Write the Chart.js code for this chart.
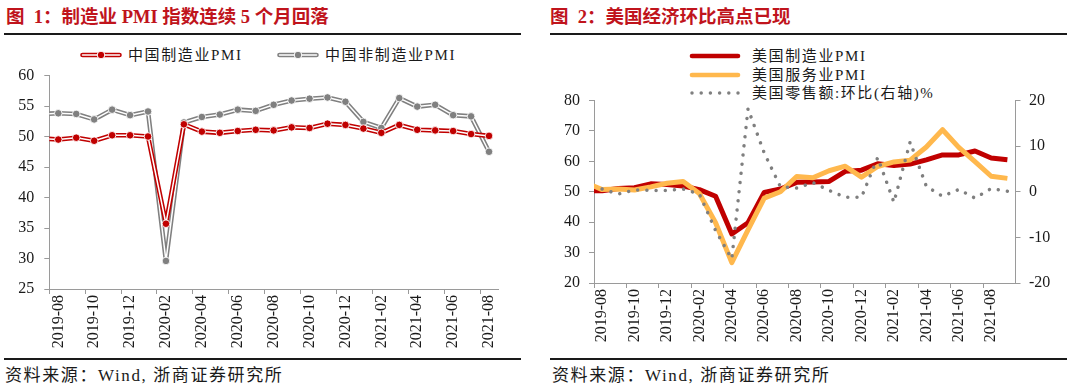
<!DOCTYPE html>
<html><head><meta charset="utf-8">
<script src="https://cdn.jsdelivr.net/npm/chart.js@4.4.1/dist/chart.umd.min.js"></script>
<style>
html,body{margin:0;padding:0;background:#fff;}
body{width:1080px;height:390px;position:relative;overflow:hidden;font-family:"Liberation Serif","Noto Sans CJK SC",serif;color:#1a1a1a;}
.title{position:absolute;top:5px;font-size:18.5px;font-weight:bold;color:#C0141C;white-space:pre;line-height:24px;}
.rule{position:absolute;height:2px;background:#1a1a1a;}
.foot{position:absolute;top:365px;font-size:17px;letter-spacing:1.6px;white-space:nowrap;line-height:22px;}
.leg{position:absolute;display:flex;align-items:center;font-size:15px;letter-spacing:1.6px;white-space:nowrap;height:18px;line-height:18px;}
.leg svg{display:block;}
canvas{position:absolute;}
</style></head>
<body>
<div class="title" style="left:6px">图  1：制造业 PMI 指数连续 5 个月回落</div>
<div class="rule" style="left:4px;width:517px;top:33px"></div>
<div class="title" style="left:550px">图  2：美国经济环比高点已现</div>
<div class="rule" style="left:550px;width:517px;top:33px"></div>

<div class="leg" style="left:80px;top:46px"><svg width="42" height="10" style="margin-right:6px"><line x1="2.5" y1="5" x2="39.5" y2="5" stroke="#C00000" stroke-width="4.6" stroke-linecap="round"/><line x1="2.5" y1="5" x2="39.5" y2="5" stroke="#fff" stroke-width="1.5" stroke-linecap="round"/><circle cx="21" cy="5" r="3.8" fill="#C00000" stroke="#fff" stroke-width="1"/></svg><span>中国制造业PMI</span></div>
<div class="leg" style="left:277px;top:46px"><svg width="42" height="10" style="margin-right:6px"><line x1="2.5" y1="5" x2="39.5" y2="5" stroke="#808080" stroke-width="4.6" stroke-linecap="round"/><line x1="2.5" y1="5" x2="39.5" y2="5" stroke="#fff" stroke-width="1.5" stroke-linecap="round"/><circle cx="21" cy="5" r="3.8" fill="#808080" stroke="#fff" stroke-width="1"/></svg><span>中国非制造业PMI</span></div>

<div class="leg" style="left:689px;top:47px"><svg width="52" height="8" style="margin-right:11px"><line x1="3" y1="4" x2="49" y2="4" stroke="#C00000" stroke-width="4.6" stroke-linecap="round"/></svg><span>美国制造业PMI</span></div>
<div class="leg" style="left:689px;top:66px"><svg width="52" height="8" style="margin-right:11px"><line x1="3" y1="4" x2="49" y2="4" stroke="#FFB84D" stroke-width="4.6" stroke-linecap="round"/></svg><span>美国服务业PMI</span></div>
<div class="leg" style="left:689px;top:84px"><svg width="52" height="8" style="margin-right:11px"><g fill="#808080"><circle cx="3" cy="4" r="1.75"/><circle cx="12.2" cy="4" r="1.75"/><circle cx="21.4" cy="4" r="1.75"/><circle cx="30.6" cy="4" r="1.75"/><circle cx="39.8" cy="4" r="1.75"/><circle cx="49" cy="4" r="1.75"/></g></svg><span>美国零售额:环比(右轴)%</span></div>

<canvas id="c1" width="520" height="320" style="left:0;top:40px"></canvas>
<canvas id="c2" width="540" height="320" style="left:540px;top:40px"></canvas>

<div class="rule" style="left:4px;width:517px;top:358px"></div>
<div class="rule" style="left:550px;width:517px;top:358px"></div>
<div class="foot" style="left:5px">资料来源：Wind, 浙商证券研究所</div>
<div class="foot" style="left:552px">资料来源：Wind, 浙商证券研究所</div>

<script>
// ---- Chart 1 data: China PMI, 2019-07 .. 2021-08 (2019-07 lies just left of the axis) ----
const cnMonths = ['2019-07','2019-08','2019-09','2019-10','2019-11','2019-12','2020-01','2020-02','2020-03','2020-04','2020-05','2020-06','2020-07','2020-08','2020-09','2020-10','2020-11','2020-12','2021-01','2021-02','2021-03','2021-04','2021-05','2021-06','2021-07','2021-08'];
const cnMfg    = [49.7,49.5,49.8,49.3,50.2,50.2,50.0,35.7,52.0,50.8,50.6,50.9,51.1,51.0,51.5,51.4,52.1,51.9,51.3,50.6,51.9,51.1,51.0,50.9,50.4,50.1];
const cnNonMfg = [53.7,53.8,53.7,52.8,54.4,53.5,54.1,29.6,52.3,53.2,53.6,54.4,54.2,55.2,55.9,56.2,56.4,55.7,52.4,51.4,56.3,54.9,55.2,53.5,53.3,47.5];

// ---- Chart 2 data: US, 2019-07 .. 2021-09 ----
const usMonths = ['2019-07','2019-08','2019-09','2019-10','2019-11','2019-12','2020-01','2020-02','2020-03','2020-04','2020-05','2020-06','2020-07','2020-08','2020-09','2020-10','2020-11','2020-12','2021-01','2021-02','2021-03','2021-04','2021-05','2021-06','2021-07','2021-08','2021-09'];
const usMfg    = [50.4,50.3,51.1,51.3,52.6,52.4,51.9,50.7,48.5,36.1,39.8,49.8,50.9,53.1,53.2,53.4,56.7,57.1,59.2,58.6,59.1,60.5,62.1,62.1,63.4,61.1,60.5];
const usSvc    = [53.0,50.7,50.9,50.6,51.6,52.8,53.4,49.4,39.8,26.7,37.5,47.9,50.0,55.0,54.6,56.9,58.4,54.8,58.3,59.8,60.4,64.7,70.4,64.6,59.9,55.1,54.4];
const usRetail = [null,0.6,-0.5,0.4,0.3,0.3,0.6,-0.5,-8.5,-14.7,18.2,8.5,1.1,0.8,2.0,0.3,-1.2,-1.2,7.5,-2.3,10.9,1.2,-1.0,0.5,-1.4,0.7,0.1];

// ---- tick labels ----
const tickLabels = ['2019-08','2019-10','2019-12','2020-02','2020-04','2020-06','2020-08','2020-10','2020-12','2021-02','2021-04','2021-06','2021-08'];
const yTicks1 = [25,30,35,40,45,50,55,60];
const yTicks2L = [20,30,40,50,60,70,80];
const yTicks2R = [-20,-10,0,10,20];

const FONT = "'Liberation Serif','Times New Roman','Noto Sans CJK SC',serif";
const AXIS = '#9a9a9a';
const TXT = '#1a1a1a';
const RED = '#C00000';
const GRAY = '#808080';
const ORANGE = '#FFB84D';

// map month arrays onto linear x (index 0 = 2019-08)
function pts(months, values) {
  const out = [];
  values.forEach((v, i) => { if (v !== null) out.push({x: i - 1, y: v}); });
  return out;
}

function xAxis(min, max, labelOffset, height) {
  return {
    type: 'linear', min: min, max: max,
    afterBuildTicks: s => { s.ticks = tickLabels.map((_, k) => ({value: min + 2 * k})); },
    afterFit: s => { s.height = height; },
    ticks: {autoSkip: false, minRotation: 90, maxRotation: 90, labelOffset: labelOffset, padding: 1,
      font: {family: FONT, size: 16}, color: TXT, callback: (v, i) => tickLabels[i]},
    grid: {drawOnChartArea: false, drawTicks: true, tickLength: 5, color: AXIS, lineWidth: 1},
    border: {display: true, color: AXIS, width: 1}
  };
}
function yAxis(list, position, width, pad) {
  return {
    type: 'linear', position: position, min: list[0], max: list[list.length - 1],
    afterBuildTicks: s => { s.ticks = list.map(v => ({value: v})); },
    afterFit: s => { s.width = width; },
    ticks: {padding: pad, font: {family: FONT, size: 16}, color: TXT},
    grid: {drawOnChartArea: false, drawTicks: true, tickLength: 5, color: AXIS, lineWidth: 1},
    border: {display: true, color: AXIS, width: 1}
  };
}
const clipLeft = {left: 0, top: false, right: false, bottom: false};

function dbl(values, color) {
  const data = pts(cnMonths, values);
  return [
    {data: data, borderColor: '#fff', borderWidth: 1.5, borderJoinStyle: 'round', tension: 0, clip: clipLeft,
     pointRadius: 3.8, pointBackgroundColor: color, pointBorderColor: 'rgba(255,255,255,0.85)', pointBorderWidth: 1},
    {data: data, borderColor: color, borderWidth: 4.6, borderJoinStyle: 'round', tension: 0, clip: clipLeft, pointRadius: 0}
  ];
}

new Chart(document.getElementById('c1'), {
  type: 'line',
  data: {datasets: [...dbl(cnMfg, RED), ...dbl(cnNonMfg, GRAY)]},
  options: {
    responsive: false, animation: false, events: [], devicePixelRatio: 1,
    layout: {padding: {top: 35.5, right: 22, bottom: 0, left: 0}},
    plugins: {legend: {display: false}, tooltip: {enabled: false}},
    scales: {x: xAxis(-0.5, 24.5, 9, 71), y: yAxis(yTicks1, 'left', 49.3, 10)}
  }
});

new Chart(document.getElementById('c2'), {
  type: 'line',
  data: {datasets: [
    {data: pts(usMonths, usRetail), yAxisID: 'y1', borderColor: '#7F7F7F', borderWidth: 3.5, borderDash: [0.01, 9.2],
     borderCapStyle: 'round', tension: 0, pointRadius: 0},
    {data: pts(usMonths, usSvc), yAxisID: 'y', borderColor: ORANGE, borderWidth: 5, borderJoinStyle: 'round', tension: 0, pointRadius: 0, clip: clipLeft},
    {data: pts(usMonths, usMfg), yAxisID: 'y', borderColor: RED, borderWidth: 5, borderJoinStyle: 'round', tension: 0, pointRadius: 0, clip: clipLeft}
  ]},
  options: {
    responsive: false, animation: false, events: [], devicePixelRatio: 1,
    layout: {padding: {top: 60.5, right: 0, bottom: 0, left: 0}},
    plugins: {legend: {display: false}, tooltip: {enabled: false}},
    scales: {x: xAxis(-0.5, 25.5, 8.1, 77), y: yAxis(yTicks2L, 'left', 54, 9), y1: yAxis(yTicks2R, 'right', 64.5, 8.5)}
  }
});
</script>
</body></html>
